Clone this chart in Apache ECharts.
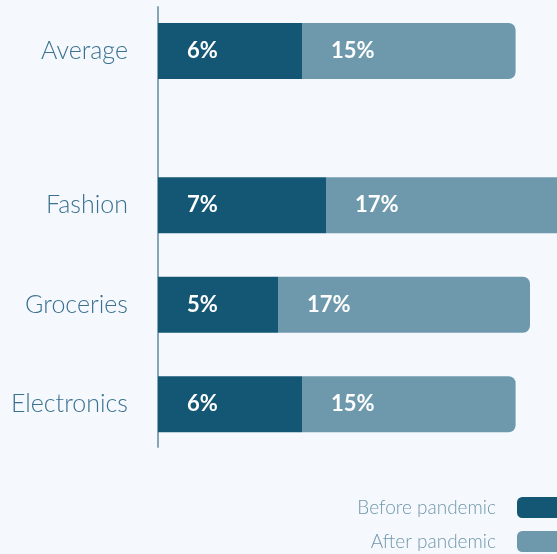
<!DOCTYPE html>
<html><head><meta charset="utf-8">
<script src="https://cdn.jsdelivr.net/npm/echarts@6/dist/echarts.min.js"></script>
<style>html,body{margin:0;padding:0;background:#f5f9fd;}#c{width:557px;height:554px;}</style>
</head><body><div id="c"></div>
<script>
const averageCategory = ['Average'];
const categories = ['Fashion', 'Groceries', 'Electronics'];
const averageBefore = [6];
const averageAfter = [14.9];
const beforeValues = [7, 5, 6];
const afterValues = [17, 15.5, 14.9];
const averageBeforeLabels = ['6%'];
const averageAfterLabels = ['15%'];
const beforeLabels = ['7%', '5%', '6%'];
const afterLabels = ['17%', '17%', '15%'];
const seriesNames = ['Before pandemic', 'After pandemic'];

const chart = echarts.init(document.getElementById('c'));
const FONT = 'Lato';
const catLabel = { color: '#3b7190', fontFamily: FONT, fontWeight: 300, fontSize: 25, margin: 30 };
const barLabel = (arr) => ({ show: true, position: 'insideLeft', distance: 29, color: '#ffffff', fontFamily: FONT, fontWeight: 'bold', fontSize: 22, formatter: p => arr[p.dataIndex] });
const catAxis = (gi, data) => ({ type: 'category', gridIndex: gi, inverse: true, data: data, axisLine: { show: false }, axisTick: { show: false }, axisLabel: catLabel });
const valAxis = (gi) => ({ type: 'value', gridIndex: gi, min: 0, max: 20, show: false });

function pair(gi, bef, aft, befL, aftL) {
  return [
    { name: seriesNames[0], type: 'bar', stack: 's' + gi, xAxisIndex: gi, yAxisIndex: gi, barWidth: 56,
      itemStyle: { color: '#145775' }, label: barLabel(befL), data: bef },
    { name: seriesNames[1], type: 'bar', stack: 's' + gi, xAxisIndex: gi, yAxisIndex: gi, barWidth: 56,
      itemStyle: { color: '#6e99ad', borderRadius: [0, 7, 7, 0] }, label: barLabel(aftL),
      data: aft.map((v, i) => v - bef[i]) }
  ];
}

const g = (top, height) => ({ left: 158, width: 480, top: top, height: height, outerBoundsMode: 'none', containLabel: false });

chart.setOption({
  backgroundColor: '#f5f9fd',
  animation: false,
  grid: [g(7, 88), g(155.5, 298.5), g(7, 440)],
  xAxis: [valAxis(0), valAxis(1), valAxis(2)],
  yAxis: [
    catAxis(0, averageCategory),
    catAxis(1, categories),
    { type: 'value', gridIndex: 2, min: 0, max: 1, splitLine: { show: false }, axisTick: { show: false }, axisLabel: { show: false },
      axisLine: { show: true, lineStyle: { color: '#86a6b8', width: 2 } } }
  ],
  legend: {
    orient: 'vertical', right: -17, bottom: -3,
    align: 'right', itemWidth: 52, itemHeight: 21, itemGap: 13,
    icon: 'roundRect',
    textStyle: { color: '#7096ab', fontFamily: FONT, fontWeight: 300, fontSize: 19, width: 150, align: 'right', padding: [0, 16, 0, 0] },
    data: seriesNames
  },
  series: [
    ...pair(0, averageBefore, averageAfter, averageBeforeLabels, averageAfterLabels),
    ...pair(1, beforeValues, afterValues, beforeLabels, afterLabels)
  ]
});
</script></body></html>
